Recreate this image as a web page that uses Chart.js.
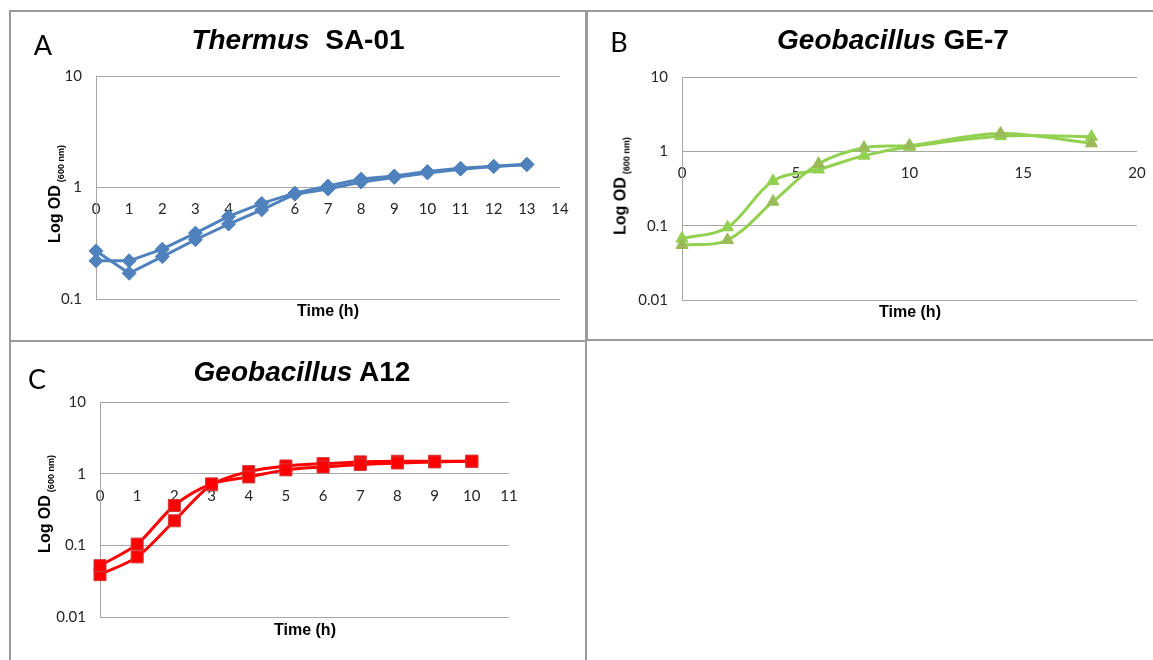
<!DOCTYPE html>
<html>
<head>
<meta charset="utf-8">
<script src="https://cdn.jsdelivr.net/npm/chart.js@4.4.1/dist/chart.umd.min.js"></script>
<style>
  body { margin: 0; background: #fff; width: 1153px; height: 660px; overflow: hidden; position: relative;
         font-family: "Liberation Sans", Arial, sans-serif; color: #000; }
  canvas { position: absolute; left: 0; top: 0; }
  .box { position: absolute; border: 2px solid #9a9a9a; box-sizing: border-box; }
  .lbl { position: absolute; transform: translate(-50%, -50%); white-space: nowrap; line-height: 1; }
  .letter { font-family: Lato, sans-serif; font-size: 27px; }
  .title { font-weight: bold; font-size: 28px; }
  .xt { font-weight: bold; font-size: 16px; }
  .yt { font-weight: bold; font-size: 16px; transform: translate(-50%, -50%) rotate(-90deg); }
  .yt sub { font-size: 9px; vertical-align: -4px; margin-left: 3px; }
</style>
</head>
<body>
<div class="box" style="left:9px;top:10px;width:578px;height:332px"></div>
<div class="box" style="left:586px;top:10px;width:580px;height:331px"></div>
<div class="box" style="left:9px;top:340px;width:578px;height:340px"></div>

<canvas id="chartA" width="1153" height="660"></canvas>
<canvas id="chartB" width="1153" height="660"></canvas>
<canvas id="chartC" width="1153" height="660"></canvas>

<div class="lbl letter" style="left:43px;top:44px">A</div>
<div class="lbl title" style="left:298px;top:40px"><i>Thermus</i>&nbsp; SA-01</div>
<div class="lbl yt" style="left:56px;top:194px">Log OD<sub>(600 nm)</sub></div>
<div class="lbl xt" style="left:328px;top:311px">Time (h)</div>

<div class="lbl letter" style="left:619px;top:41px">B</div>
<div class="lbl title" style="left:893px;top:40px"><i>Geobacillus</i> GE-7</div>
<div class="lbl yt" style="left:622px;top:186px">Log OD<sub>(600 nm)</sub></div>
<div class="lbl xt" style="left:910px;top:312px">Time (h)</div>

<div class="lbl letter" style="left:37px;top:378px">C</div>
<div class="lbl title" style="left:302px;top:372px"><i>Geobacillus</i> A12</div>
<div class="lbl yt" style="left:46px;top:504px">Log OD<sub>(600 nm)</sub></div>
<div class="lbl xt" style="left:305px;top:630px">Time (h)</div>

<script>
// growth curves, OD600 over time, two replicates per strain
var timeA = [0, 1, 2, 3, 4, 5, 6, 7, 8, 9, 10, 11, 12, 13];
var odA1 = [0.27, 0.17, 0.24, 0.34, 0.47, 0.63, 0.87, 0.97, 1.12, 1.23, 1.35, 1.46, 1.54, 1.60];
var odA2 = [0.22, 0.22, 0.28, 0.39, 0.55, 0.72, 0.89, 1.03, 1.19, 1.27, 1.39, 1.49, 1.55, 1.62];

var timeB = [0, 2, 4, 6, 8, 10, 14, 18];
var odB1 = [0.067, 0.095, 0.40, 0.57, 0.875, 1.15, 1.60, 1.57];
var odB2 = [0.055, 0.064, 0.21, 0.68, 1.12, 1.20, 1.74, 1.28];

var timeC = [0, 1, 2, 3, 4, 5, 6, 7, 8, 9, 10];
var odC1 = [0.052, 0.104, 0.36, 0.72, 0.90, 1.13, 1.24, 1.34, 1.41, 1.46, 1.49];
var odC2 = [0.039, 0.069, 0.22, 0.70, 1.07, 1.28, 1.38, 1.46, 1.49, 1.49, 1.49];

var xTicksA = [0, 1, 2, 3, 4, 5, 6, 7, 8, 9, 10, 11, 12, 13, 14];
var xTicksB = [0, 5, 10, 15, 20];
var xTicksC = [0, 1, 2, 3, 4, 5, 6, 7, 8, 9, 10, 11];
var yTicksA = [0.1, 1, 10];
var yTicksBC = [0.01, 0.1, 1, 10];

function toPoints(xs, ys) {
    return xs.map(function (x, i) { return { x: x, y: ys[i] }; });
}

function makeSeries(xs, ys, lineColor, markerColor, markerEdge, style, radius, tension) {
    return {
        data: toPoints(xs, ys),
        borderColor: lineColor,
        borderWidth: 3,
        pointStyle: style,
        pointRadius: radius,
        pointBackgroundColor: markerColor,
        pointBorderColor: markerEdge,
        pointBorderWidth: 1,
        tension: tension,
        clip: false
    };
}

// y axis is 70px wide so the tick labels are not cut off
function makePanel(id, datasets, xTicks, yTicks, pad) {
    var tickFont = { family: 'Lato, sans-serif', size: 15 };
    new Chart(document.getElementById(id), {
        type: 'line',
        data: { datasets: datasets },
        options: {
            responsive: false,
            animation: false,
            layout: { padding: pad },
            plugins: { legend: { display: false }, tooltip: { enabled: false } },
            scales: {
                x: {
                    type: 'linear',
                    position: { y: 1 },
                    min: xTicks[0],
                    max: xTicks[xTicks.length - 1],
                    afterBuildTicks: function (s) { s.ticks = xTicks.map(function (v) { return { value: v }; }); },
                    grid: { display: false },
                    border: { display: false },
                    ticks: { font: tickFont, color: '#262626', padding: 5, maxRotation: 0, autoSkip: false }
                },
                y: {
                    type: 'logarithmic',
                    position: 'left',
                    min: yTicks[0],
                    max: yTicks[yTicks.length - 1],
                    afterBuildTicks: function (s) { s.ticks = yTicks.map(function (v) { return { value: v }; }); },
                    afterFit: function (s) { s.width = 70; },
                    grid: { color: '#a6a6a6', drawTicks: false },
                    border: { color: '#a6a6a6' },
                    ticks: {
                        font: tickFont, color: '#262626', padding: 14,
                        callback: function (v) { return String(v); }
                    }
                }
            }
        }
    });
}

// A: Thermus SA-01
makePanel('chartA', [
    makeSeries(timeA, odA1, '#4f81bd', '#4f81bd', '#4f81bd', 'rectRot', 7, 0),
    makeSeries(timeA, odA2, '#4f81bd', '#4f81bd', '#4f81bd', 'rectRot', 7, 0)
], xTicksA, yTicksA, { left: 26, top: 76, right: 593, bottom: 361 });

// B: Geobacillus GE-7
makePanel('chartB', [
    makeSeries(timeB, odB2, '#92d050', '#9bbb59', '#9bbb59', 'triangle', 7, 0.35),
    makeSeries(timeB, odB1, '#92d050', '#92d050', '#92d050', 'triangle', 7, 0.35)
], xTicksB, yTicksBC, { left: 612, top: 77, right: 16, bottom: 360 });

// C: Geobacillus A12
makePanel('chartC', [
    makeSeries(timeC, odC1, '#ff0000', '#ff0000', '#d0393b', 'rect', 8.5, 0.3),
    makeSeries(timeC, odC2, '#ff0000', '#ff0000', '#d0393b', 'rect', 8.5, 0.3)
], xTicksC, yTicksBC, { left: 30, top: 402, right: 644, bottom: 43 });
</script>
</body>
</html>
